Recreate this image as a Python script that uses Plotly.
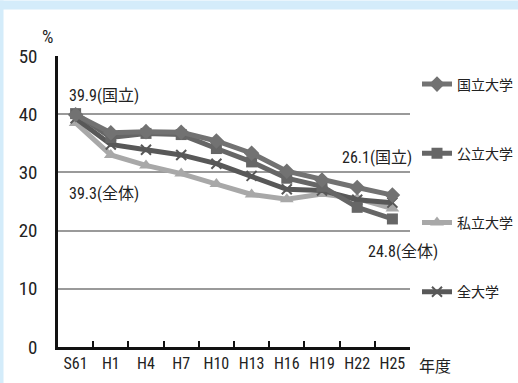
import plotly.graph_objects as go

categories = ["S61", "H1", "H4", "H7", "H10", "H13", "H16", "H19", "H22", "H25"]
national = [39.9, 36.8, 37.0, 36.9, 35.4, 33.3, 30.2, 28.7, 27.4, 26.1]
public = [40.1, 36.0, 36.7, 36.5, 34.1, 31.8, 29.0, 27.6, 24.0, 22.0]
private = [38.5, 33.0, 31.2, 29.8, 28.0, 26.2, 25.4, 26.3, 25.5, 23.8]
overall = [39.3, 34.8, 33.9, 33.0, 31.5, 29.4, 27.1, 26.9, 25.3, 24.8]
y_ticks = [0, 10, 20, 30, 40, 50]

W, H = 518, 383
L, R, T, B = 58, 410, 55.5, 347
FONT = "Liberation Sans Narrow, Roboto Condensed, Noto Sans CJK JP, sans-serif"
JP = "Noto Sans CJK JP, sans-serif"

def px(p):
    return (p - L) / (R - L)

def py(p):
    return (B - p) / (B - T)

fig = go.Figure()
series = [
    ("私立大学", private, "#a8a8a8", "triangle-up", 12, 3),
    ("全大学", overall, "#585858", "x-thin", 10, 4),
    ("公立大学", public, "#666666", "square", 11, 2),
    ("国立大学", national, "#727272", "diamond", 12, 1),
]
for name, vals, col, sym, size, rank in series:
    fig.add_trace(go.Scatter(
        x=categories, y=vals, name=name, mode="lines+markers",
        line=dict(color=col, width=5),
        marker=dict(symbol=sym, size=size, color=col,
                    line=dict(color=col, width=2 if sym == "x-thin" else 0)),
        legendrank=rank, legendgroup=name,
    ))

annotations = [
    dict(x=px(67), y=py(95), text="39.9(国立)", xanchor="left", size=16),
    dict(x=px(67), y=py(193), text="39.3(全体)", xanchor="left", size=16),
    dict(x=px(340), y=py(157), text="26.1(国立)", xanchor="left", size=16),
    dict(x=px(366), y=py(251), text="24.8(全体)", xanchor="left", size=16),
    dict(x=px(40), y=py(36), text="%", xanchor="left", size=18),
    dict(x=px(417), y=py(367), text="年度", xanchor="left", size=16),
]
for a in annotations:
    s = a.pop("size")
    a.update(xref="paper", yref="paper", showarrow=False, yanchor="middle",
             font=dict(family=FONT, size=s, color="#222222"))

shapes = [
    dict(type="rect", xref="paper", yref="paper", x0=px(0), x1=px(W), y0=py(0), y1=py(9),
         fillcolor="#d4ecfa", line=dict(width=0), layer="below"),
    dict(type="rect", xref="paper", yref="paper", x0=px(0), x1=px(3.5), y0=py(0), y1=py(H),
         fillcolor="#d4ecfa", line=dict(width=0), layer="below"),
]

fig.update_layout(
    width=W, height=H,
    margin=dict(l=L, r=W - R, t=T, b=H - B, autoexpand=False),
    paper_bgcolor="white", plot_bgcolor="white",
    font=dict(family=FONT, color="#222222"),
    showlegend=True,
    legend=dict(x=px(417), y=py(68), xanchor="left", yanchor="top",
                font=dict(family=JP, size=14, color="#222222"),
                tracegroupgap=48, itemwidth=30, bgcolor="rgba(0,0,0,0)"),
    annotations=annotations, shapes=shapes,
    xaxis=dict(type="category", range=[-0.5, 9.5], tickson="boundaries",
               ticks="inside", ticklen=6, tickwidth=2, tickcolor="#111111",
               showline=True, linecolor="#111111", linewidth=2.5, showgrid=False,
               tickangle=0, automargin=False,
               tickfont=dict(family=FONT, size=16, color="#222222"), fixedrange=True),
    yaxis=dict(range=[0, 50], tickvals=y_ticks, showline=True, linecolor="#111111",
               linewidth=2.5, showgrid=True, gridcolor="#9a9a9a", gridwidth=1.5,
               zeroline=False, ticks="", ticklabelstandoff=14, automargin=False,
               tickfont=dict(family=FONT, size=19, color="#222222"), fixedrange=True),
)
fig.write_html("out.html")
